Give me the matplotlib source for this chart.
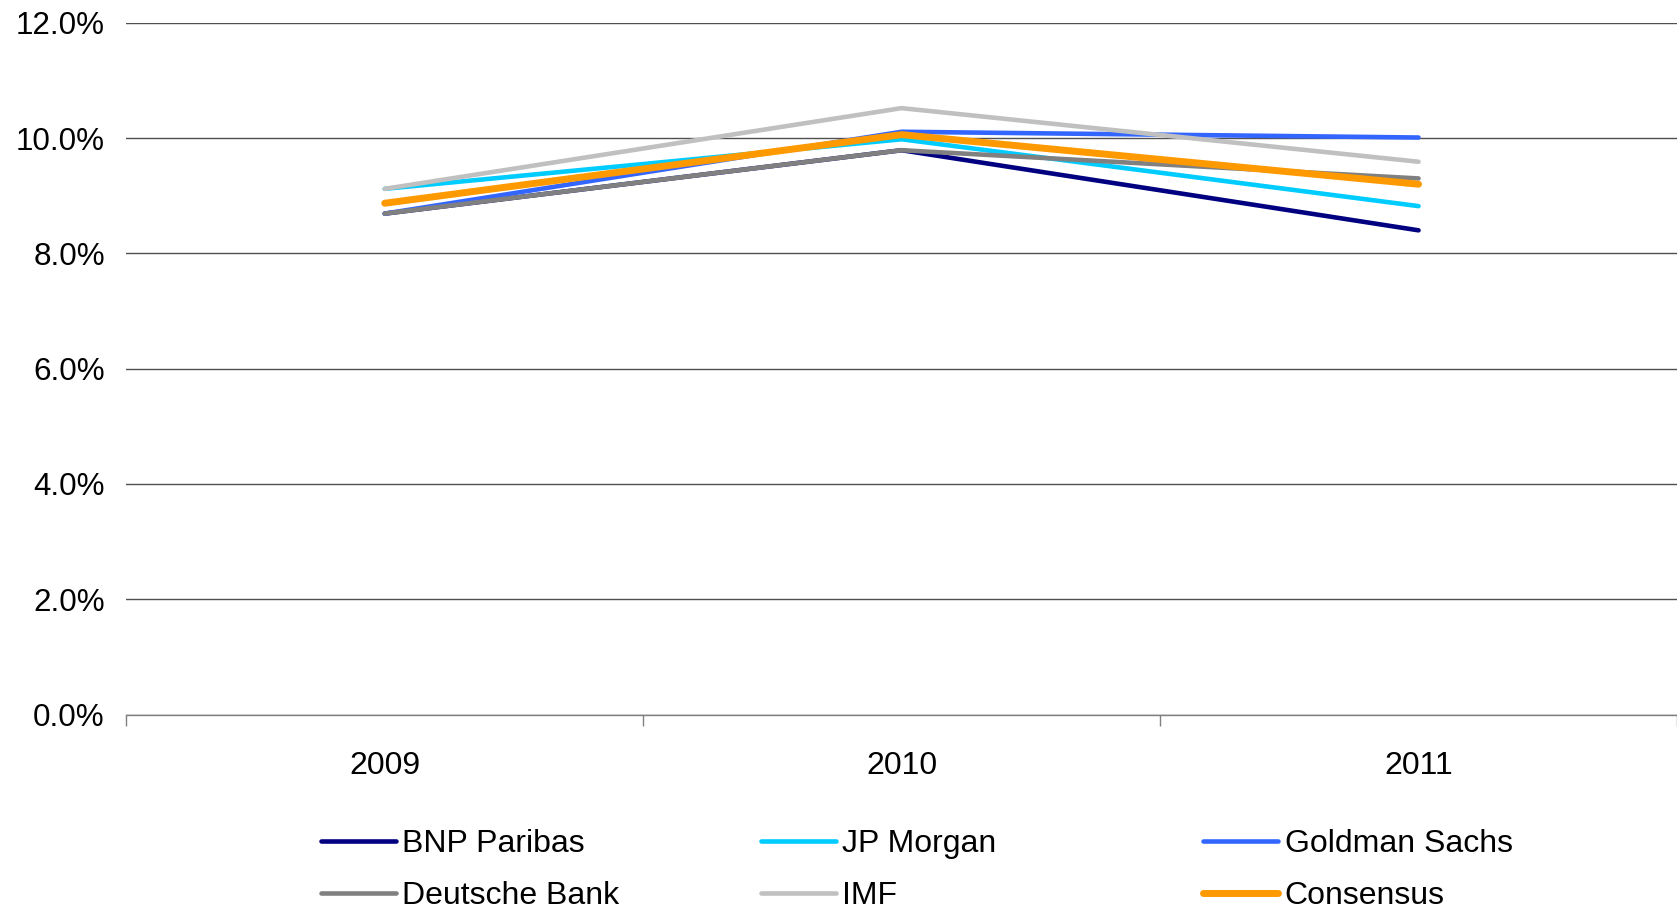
import matplotlib.pyplot as plt
import numpy as np
from matplotlib.ticker import FixedLocator, PercentFormatter

plt.rcParams['font.family'] = ['Liberation Sans', 'DejaVu Sans']

years = ['2009', '2010', '2011']

bnp_paribas = [8.69, 9.79, 8.40]
jp_morgan = [9.12, 9.98, 8.82]
goldman_sachs = [8.69, 10.11, 10.01]
deutsche_bank = [8.69, 9.79, 9.30]
imf = [9.12, 10.52, 9.59]
consensus = [8.87, 10.06, 9.20]

series = [
    ('BNP Paribas', bnp_paribas, '#000080', 3.3),
    ('JP Morgan', jp_morgan, '#00CCFF', 3.3),
    ('Goldman Sachs', goldman_sachs, '#3366FF', 3.3),
    ('Deutsche Bank', deutsche_bank, '#808080', 3.3),
    ('IMF', imf, '#C0C0C0', 3.3),
    ('Consensus', consensus, '#FF9900', 5.0),
]

fig = plt.figure(figsize=(16.77, 9.13), dpi=100)
ax = fig.add_axes([0.0753, 0.2174, 0.9247, 0.7576])

x = np.arange(len(years))
handles = {}
for name, vals, color, lw in series:
    line, = ax.plot(x, vals, color=color, lw=lw, solid_capstyle='round',
                    solid_joinstyle='round', label=name)
    handles[name] = line

ax.set_xlim(-0.5, 2.5)
ax.set_ylim(0, 12)
ax.set_yticks(np.arange(0, 12.1, 2))
ax.yaxis.set_major_formatter(PercentFormatter(decimals=1))
ax.yaxis.grid(True, color='#505050', lw=1)
ax.set_axisbelow(True)

# category boundaries get the tick marks, centres get the labels
ax.xaxis.set_major_locator(FixedLocator([-0.5, 0.5, 1.5, 2.5]))
ax.xaxis.set_minor_locator(FixedLocator(x))
ax.set_xticklabels([])
ax.set_xticklabels(years, minor=True)
ax.tick_params(axis='x', which='major', length=8, color='#808080', width=1)
ax.tick_params(axis='x', which='minor', length=0, pad=26, labelsize=23)
ax.tick_params(axis='y', length=0, pad=15.5, labelsize=22.6)

for side in ['left', 'right', 'top']:
    ax.spines[side].set_visible(False)
ax.spines['bottom'].set_color('#808080')
ax.spines['bottom'].set_linewidth(1)

columns = [
    (['BNP Paribas', 'Deutsche Bank'], 0.1914),
    (['JP Morgan', 'IMF'], 0.4538),
    (['Goldman Sachs', 'Consensus'], 0.7174),
]
for names, xpos in columns:
    leg = fig.legend([handles[n] for n in names], names, loc='center left',
                     bbox_to_anchor=(xpos, 0.047), frameon=False,
                     fontsize=23, handlelength=2.35, handletextpad=0.2,
                     labelspacing=0.68, borderpad=0, borderaxespad=0)

fig.savefig('out.png', dpi=100)
